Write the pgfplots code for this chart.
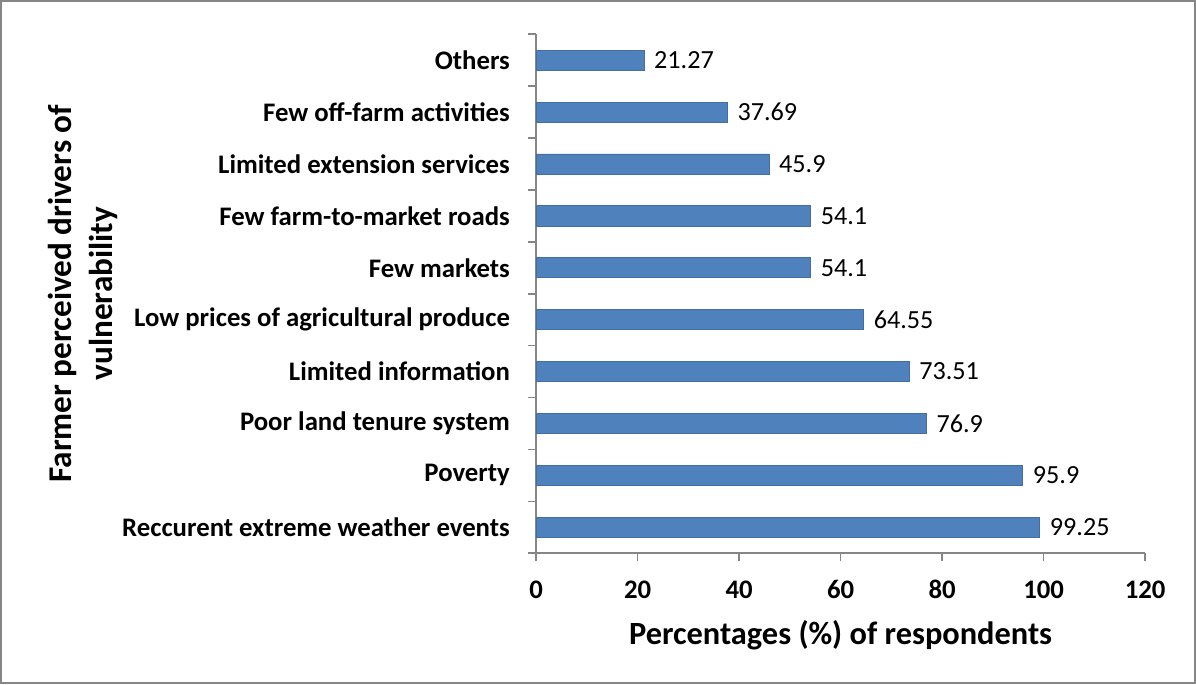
\documentclass[border=0pt]{standalone}
\usepackage{fontspec}
\setmainfont{Carlito}
\usepackage{pgfplots}
\pgfplotsset{compat=1.18}

\definecolor{barblue}{HTML}{4F81BD}
\definecolor{axgray}{HTML}{868686}

\begin{document}
\begin{tikzpicture}
\begin{axis}[
    at={(0,0)}, anchor=south west,
    xbar,
    scale only axis,
    width=302.7pt, height=258pt,
    xmin=0, xmax=120,
    ymin=-0.5, ymax=9.5,
    xtick={0,20,...,120},
    ytick={-0.5,0.5,...,9.5},
    y tick label as interval,
    yticklabels={Reccurent extreme weather events, Poverty, Poor land tenure system,
        Limited information, Low prices of agricultural produce, Few markets,
        Few farm-to-market roads, Limited extension services,
        Few off-farm activities, Others},
    axis x line*=bottom,
    axis y line*=left,
    axis line style={axgray, line width=0.8pt},
    tick style={axgray, line width=0.8pt},
    tick align=outside,
    major tick length=4pt,
    /pgf/number format/assume math mode=true,
    ticklabel style={font=\fontsize{13.3}{15}\selectfont\bfseries},
    yticklabel style={xshift=-5.5pt},
    xticklabel style={yshift=-6pt},
    bar width=10pt,
    bar shift=0pt,
    nodes near coords,
    point meta=explicit symbolic,
    every node near coord/.append style={font=\fontsize{13}{15}\selectfont, black, anchor=west, xshift=1.5pt},
    xlabel={Percentages (\%) of respondents},
    xlabel style={font=\fontsize{16.1}{19}\selectfont\bfseries, at={(axis description cs:0.5,-0.158)}, anchor=center},
    ylabel={Farmer perceived drivers of\\vulnerability},
    ylabel style={font=\fontsize{16.5}{20}\selectfont\bfseries, align=center, at={(axis description cs:-0.744,0.5)}, anchor=center},
]
\addplot[draw=barblue!85!black, fill=barblue, line width=0.4pt] coordinates {
    (99.25,0) [99.25]
    (95.9,1) [95.9]
    (76.9,2) [76.9]
    (73.51,3) [73.51]
    (64.55,4) [64.55]
    (54.1,5) [54.1]
    (54.1,6) [54.1]
    (45.9,7) [45.9]
    (37.69,8) [37.69]
    (21.27,9) [21.27]
};
\end{axis}
\draw[axgray, line width=1pt] (-266pt,-64.5pt) rectangle (327.5pt,274.5pt);
\end{tikzpicture}
\end{document}
